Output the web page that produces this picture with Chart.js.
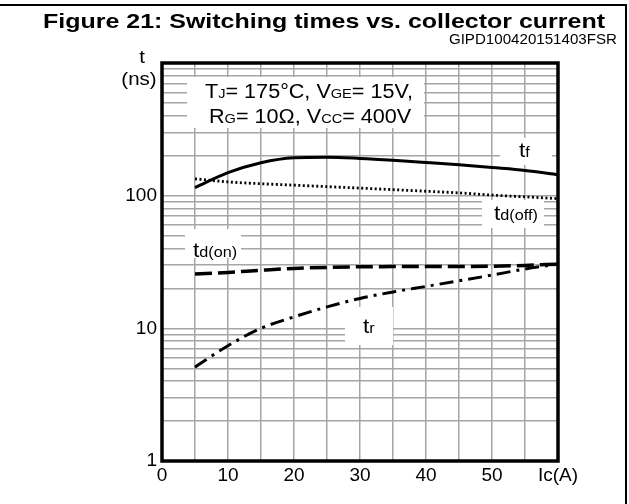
<!DOCTYPE html>
<html>
<head>
<meta charset="utf-8">
<script src="https://cdn.jsdelivr.net/npm/chart.js@4/dist/chart.umd.min.js"></script>
<style>
  html, body { margin: 0; padding: 0; background: #fff; }
  #wrap { width: 629px; height: 504px; position: relative; }
</style>
</head>
<body>
<div id="wrap"><canvas id="chart"></canvas></div>
<script>
// ---------- DATA ----------
const currents = [5, 10, 15, 20, 25, 30, 35, 40, 45, 50, 55, 60];
const tf     = [115, 149, 177, 193, 195, 191, 185, 178, 171, 163, 155, 144];
const tdOff  = [134, 127, 123, 120, 117, 114, 111, 108, 105, 101, 98, 95];
const tdOn   = [25.7, 26.4, 27.4, 28.3, 28.8, 29.1, 29.2, 29.3, 29.3, 29.4, 29.8, 30.5];
const tr     = [5.1, 7.4, 10, 12.2, 14.5, 16.8, 18.8, 20.7, 22.8, 25.2, 28, 30.5];
const yLabels = [1, 10, 100];

const FONT = '"Liberation Sans", Arial, sans-serif';
const SX = 1.08; // source text is a little wide

function pts(ys) {
  return currents.map((x, i) => ({ x: x, y: ys[i] }));
}

// draws text pieces of different size on one baseline
function runs(ctx, x, y, parts, align) {
  ctx.save();
  let w = 0;
  parts.forEach(p => { ctx.font = p[1] + 'px ' + FONT; w += ctx.measureText(p[0]).width; });
  ctx.translate(x, y);
  ctx.scale(SX, 1);
  let cx = align === 'center' ? -w / 2 : (align === 'right' ? -w : 0);
  ctx.fillStyle = '#000';
  ctx.textBaseline = 'alphabetic';
  ctx.textAlign = 'left';
  parts.forEach(p => {
    ctx.font = p[1] + 'px ' + FONT;
    ctx.fillText(p[0], cx, 0);
    cx += ctx.measureText(p[0]).width;
  });
  ctx.restore();
}

const annot = {
  id: 'annot',
  beforeDatasetsDraw(chart) {
    const ctx = chart.ctx;
    ctx.save();
    ctx.fillStyle = '#fff';
    // white patches behind the labels
    ctx.fillRect(187, 77, 237, 51);
    ctx.fillRect(500, 138, 52, 27);
    ctx.fillRect(482, 200, 62, 28);
    ctx.fillRect(185, 229, 56, 29);
    ctx.fillRect(345, 307, 48, 38);
    ctx.restore();
  },
  afterDraw(chart) {
    const ctx = chart.ctx;
    const a = chart.chartArea;
    ctx.save();
    // plot frame
    ctx.strokeStyle = '#000';
    ctx.lineWidth = 3.5;
    ctx.strokeRect(a.left, a.top, a.right - a.left, a.bottom - a.top);
    // outer figure frame (top and right)
    ctx.lineWidth = 2;
    ctx.beginPath();
    ctx.moveTo(0, 5);
    ctx.lineTo(626, 5);
    ctx.lineTo(626, 504);
    ctx.stroke();

    // title
    ctx.font = 'bold 21px ' + FONT;
    const tw = ctx.measureText('Figure 21: Switching times vs. collector current').width;
    ctx.save();
    ctx.translate(324, 28);
    ctx.scale(562 / tw, 1);
    ctx.fillStyle = '#000';
    ctx.textAlign = 'center';
    ctx.fillText('Figure 21: Switching times vs. collector current', 0, 0);
    ctx.restore();

    runs(ctx, 617, 44, [['GIPD100420151403FSR', 14]], 'right');

    // y axis unit
    runs(ctx, 142, 63, [['t', 19]], 'center');
    runs(ctx, 139, 85, [['(ns)', 19]], 'center');

    // test conditions
    runs(ctx, 205, 98, [['T', 20], ['J', 13.5], ['= 175°C, V', 20], ['GE', 13.5], ['= 15V,', 20]]);
    runs(ctx, 209, 123, [['R', 20], ['G', 13.5], ['= 10Ω, V', 20], ['CC', 13.5], ['= 400V', 20]]);

    // curve labels
    runs(ctx, 519, 157, [['t', 21], ['f', 15]]);
    runs(ctx, 494, 220, [['t', 21], ['d(off)', 15]]);
    runs(ctx, 193, 257, [['t', 21], ['d(on)', 15]]);
    runs(ctx, 363, 333, [['t', 21], ['r', 15]]);
    ctx.restore();
  }
};

const ctx = document.getElementById('chart').getContext('2d');
const chart = new Chart(ctx, {
  type: 'line',
  data: {
    datasets: [
      { label: 'tf', data: pts(tf), borderColor: '#000', borderWidth: 3, pointRadius: 0,
        cubicInterpolationMode: 'monotone' },
      { label: 'td(off)', data: pts(tdOff), borderColor: '#000', borderWidth: 2.8, borderDash: [2, 2.5],
        pointRadius: 0, cubicInterpolationMode: 'monotone' },
      { label: 'td(on)', data: pts(tdOn), borderColor: '#000', borderWidth: 3.5, borderDash: [17, 6],
        pointRadius: 0, cubicInterpolationMode: 'monotone' },
      { label: 'tr', data: pts(tr), borderColor: '#000', borderWidth: 3, borderDash: [14, 6, 3, 6],
        pointRadius: 0, cubicInterpolationMode: 'monotone' }
    ]
  },
  options: {
    responsive: true,
    maintainAspectRatio: false,
    animation: false,
    layout: { padding: { left: 0, right: 71, top: 63, bottom: 0 } },
    plugins: {
      legend: { display: false },
      title: { display: false },
      tooltip: { enabled: false }
    },
    scales: {
      x: {
        type: 'linear',
        min: 0,
        max: 60,
        afterFit: s => { s.height = 43; },
        border: { display: false },
        grid: { color: '#a6a6a6', lineWidth: 1.5, drawTicks: false },
        ticks: {
          stepSize: 5,
          autoSkip: false,
          maxRotation: 0,
          padding: 3,
          color: '#000',
          font: { family: FONT, size: 19 },
          callback: v => (v % 10 !== 0 ? '' : (v === 60 ? 'Ic(A)' : String(v)))
        }
      },
      y: {
        type: 'logarithmic',
        min: 1,
        max: 1000,
        afterFit: s => { s.width = 162; },
        afterBuildTicks: s => {
          const t = [];
          [1, 10, 100].forEach(d => { for (let k = 1; k <= 9; k++) t.push({ value: k * d }); });
          t.push({ value: 1000 });
          s.ticks = t;
        },
        border: { display: false },
        grid: { color: '#a6a6a6', lineWidth: 1.5, drawTicks: false },
        ticks: {
          autoSkip: false,
          padding: 5,
          color: '#000',
          font: { family: FONT, size: 19 },
          callback: v => (yLabels.includes(v) ? String(v) : '')
        }
      }
    }
  },
  plugins: [annot]
});
</script>
</body>
</html>
